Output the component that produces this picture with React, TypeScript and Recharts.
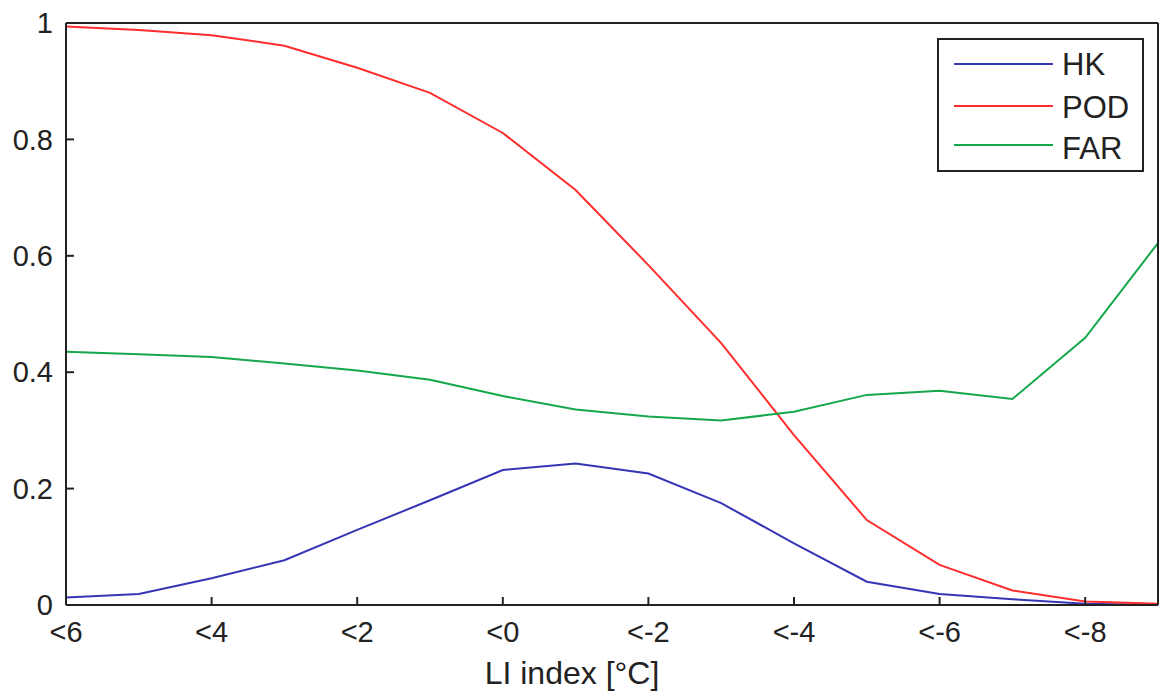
import React from 'react';
import { LineChart, Line, XAxis, YAxis, Legend } from 'recharts';

const liValues = [6, 5, 4, 3, 2, 1, 0, -1, -2, -3, -4, -5, -6, -7, -8, -9];
const hkValues = [0.013, 0.019, 0.046, 0.077, 0.129, 0.18, 0.232, 0.243, 0.226, 0.175, 0.106, 0.04, 0.019, 0.01, 0.002, 0.0];
const podValues = [0.994, 0.988, 0.979, 0.961, 0.923, 0.88, 0.811, 0.713, 0.584, 0.45, 0.292, 0.146, 0.069, 0.025, 0.006, 0.002];
const farValues = [0.435, 0.431, 0.426, 0.415, 0.403, 0.387, 0.359, 0.336, 0.324, 0.317, 0.332, 0.361, 0.368, 0.354, 0.459, 0.622];

const seriesNames = ['HK', 'POD', 'FAR'];
const xTicks = [6, 4, 2, 0, -2, -4, -6, -8];
const xTickLabels = ['<6', '<4', '<2', '<0', '<-2', '<-4', '<-6', '<-8'];
const yTicks = [0, 0.2, 0.4, 0.6, 0.8, 1];
const yTickLabels = ['0', '0.2', '0.4', '0.6', '0.8', '1'];
const xLabel = 'LI index [°C]';

const FONT = '"Liberation Sans", Arial, Helvetica, sans-serif';
const AXIS = '#222';

const data = liValues.map((li, i) => ({ li, hk: hkValues[i], pod: podValues[i], far: farValues[i] }));

const renderLegend = (props: any) => {
  const items = (props.payload || [])
    .filter((p: any) => seriesNames.includes(p.value))
    .sort((a: any, b: any) => seriesNames.indexOf(a.value) - seriesNames.indexOf(b.value));
  return (
    <div style={{ width: 207, height: 134, boxSizing: 'border-box', border: `2px solid ${AXIS}`, background: '#fff' }}>
      <svg width={203} height={130} style={{ display: 'block' }}>
        {items.map((it: any, i: number) => {
          const ly = [24, 66, 105][i] ?? 24 + i * 41;
          const by = [35, 78, 119][i] ?? 35 + i * 42;
          return (
            <g key={i}>
              <line x1={15} x2={114} y1={ly} y2={ly} stroke={it.color} strokeWidth={2} />
              <text x={123} y={by} fontSize={31} fontFamily={FONT} fill={AXIS}>{it.value}</text>
            </g>
          );
        })}
      </svg>
    </div>
  );
};

export default function App() {
  return (
    <div style={{ position: 'absolute', left: 0, top: 0, width: 1159, height: 693, background: '#fff' }}>
      <LineChart width={1159} height={693} data={data} margin={{ top: 0, right: 0, bottom: 0, left: 0 }}>
        <XAxis
          xAxisId="b"
          dataKey="li"
          type="number"
          domain={[-9, 6]}
          reversed
          allowDataOverflow
          ticks={xTicks}
          interval={0}
          tickFormatter={(v: number) => xTickLabels[xTicks.indexOf(v)]}
          height={88}
          tickSize={-8}
          tickMargin={24}
          axisLine={{ stroke: AXIS, strokeWidth: 2 }}
          tickLine={{ stroke: AXIS, strokeWidth: 2 }}
          tick={{ fontSize: 29, fill: AXIS, fontFamily: FONT }}
          label={{ value: xLabel, position: 'insideBottom', offset: 9, dx: -40, fontSize: 32, fill: AXIS, fontFamily: FONT }}
        />
        <XAxis
          xAxisId="t"
          orientation="top"
          dataKey="li"
          type="number"
          domain={[-9, 6]}
          reversed
          allowDataOverflow
          ticks={xTicks}
          interval={0}
          height={23}
          tick={false}
          tickSize={-8}
          axisLine={{ stroke: AXIS, strokeWidth: 2 }}
          tickLine={{ stroke: AXIS, strokeWidth: 2 }}
        />
        <YAxis
          yAxisId="l"
          type="number"
          domain={[0, 1]}
          allowDataOverflow
          ticks={yTicks}
          interval={0}
          tickFormatter={(v: number) => yTickLabels[yTicks.indexOf(v)]}
          width={66}
          tickSize={-8}
          tickMargin={21}
          axisLine={{ stroke: AXIS, strokeWidth: 2 }}
          tickLine={{ stroke: AXIS, strokeWidth: 2 }}
          tick={{ fontSize: 29, fill: AXIS, fontFamily: FONT }}
        />
        <YAxis
          yAxisId="r"
          orientation="right"
          type="number"
          domain={[0, 1]}
          allowDataOverflow
          ticks={yTicks}
          interval={0}
          width={1}
          tick={false}
          tickSize={-8}
          axisLine={{ stroke: AXIS, strokeWidth: 2 }}
          tickLine={{ stroke: AXIS, strokeWidth: 2 }}
        />
        <Legend
          layout="vertical"
          align="center"
          verticalAlign="middle"
          content={renderLegend}
          wrapperStyle={{ left: 937, top: 38, width: 207, height: 134 }}
        />
        <Line xAxisId="t" yAxisId="r" dataKey="hk" name="hidden" stroke="none" dot={false} activeDot={false} legendType="none" isAnimationActive={false} />
        <Line xAxisId="b" yAxisId="l" type="linear" dataKey="hk" name="HK" stroke="#3535b5" strokeWidth={2} dot={false} isAnimationActive={false} />
        <Line xAxisId="b" yAxisId="l" type="linear" dataKey="pod" name="POD" stroke="#ff2d2d" strokeWidth={2} dot={false} isAnimationActive={false} />
        <Line xAxisId="b" yAxisId="l" type="linear" dataKey="far" name="FAR" stroke="#14a84a" strokeWidth={2} dot={false} isAnimationActive={false} />
      </LineChart>
    </div>
  );
}
